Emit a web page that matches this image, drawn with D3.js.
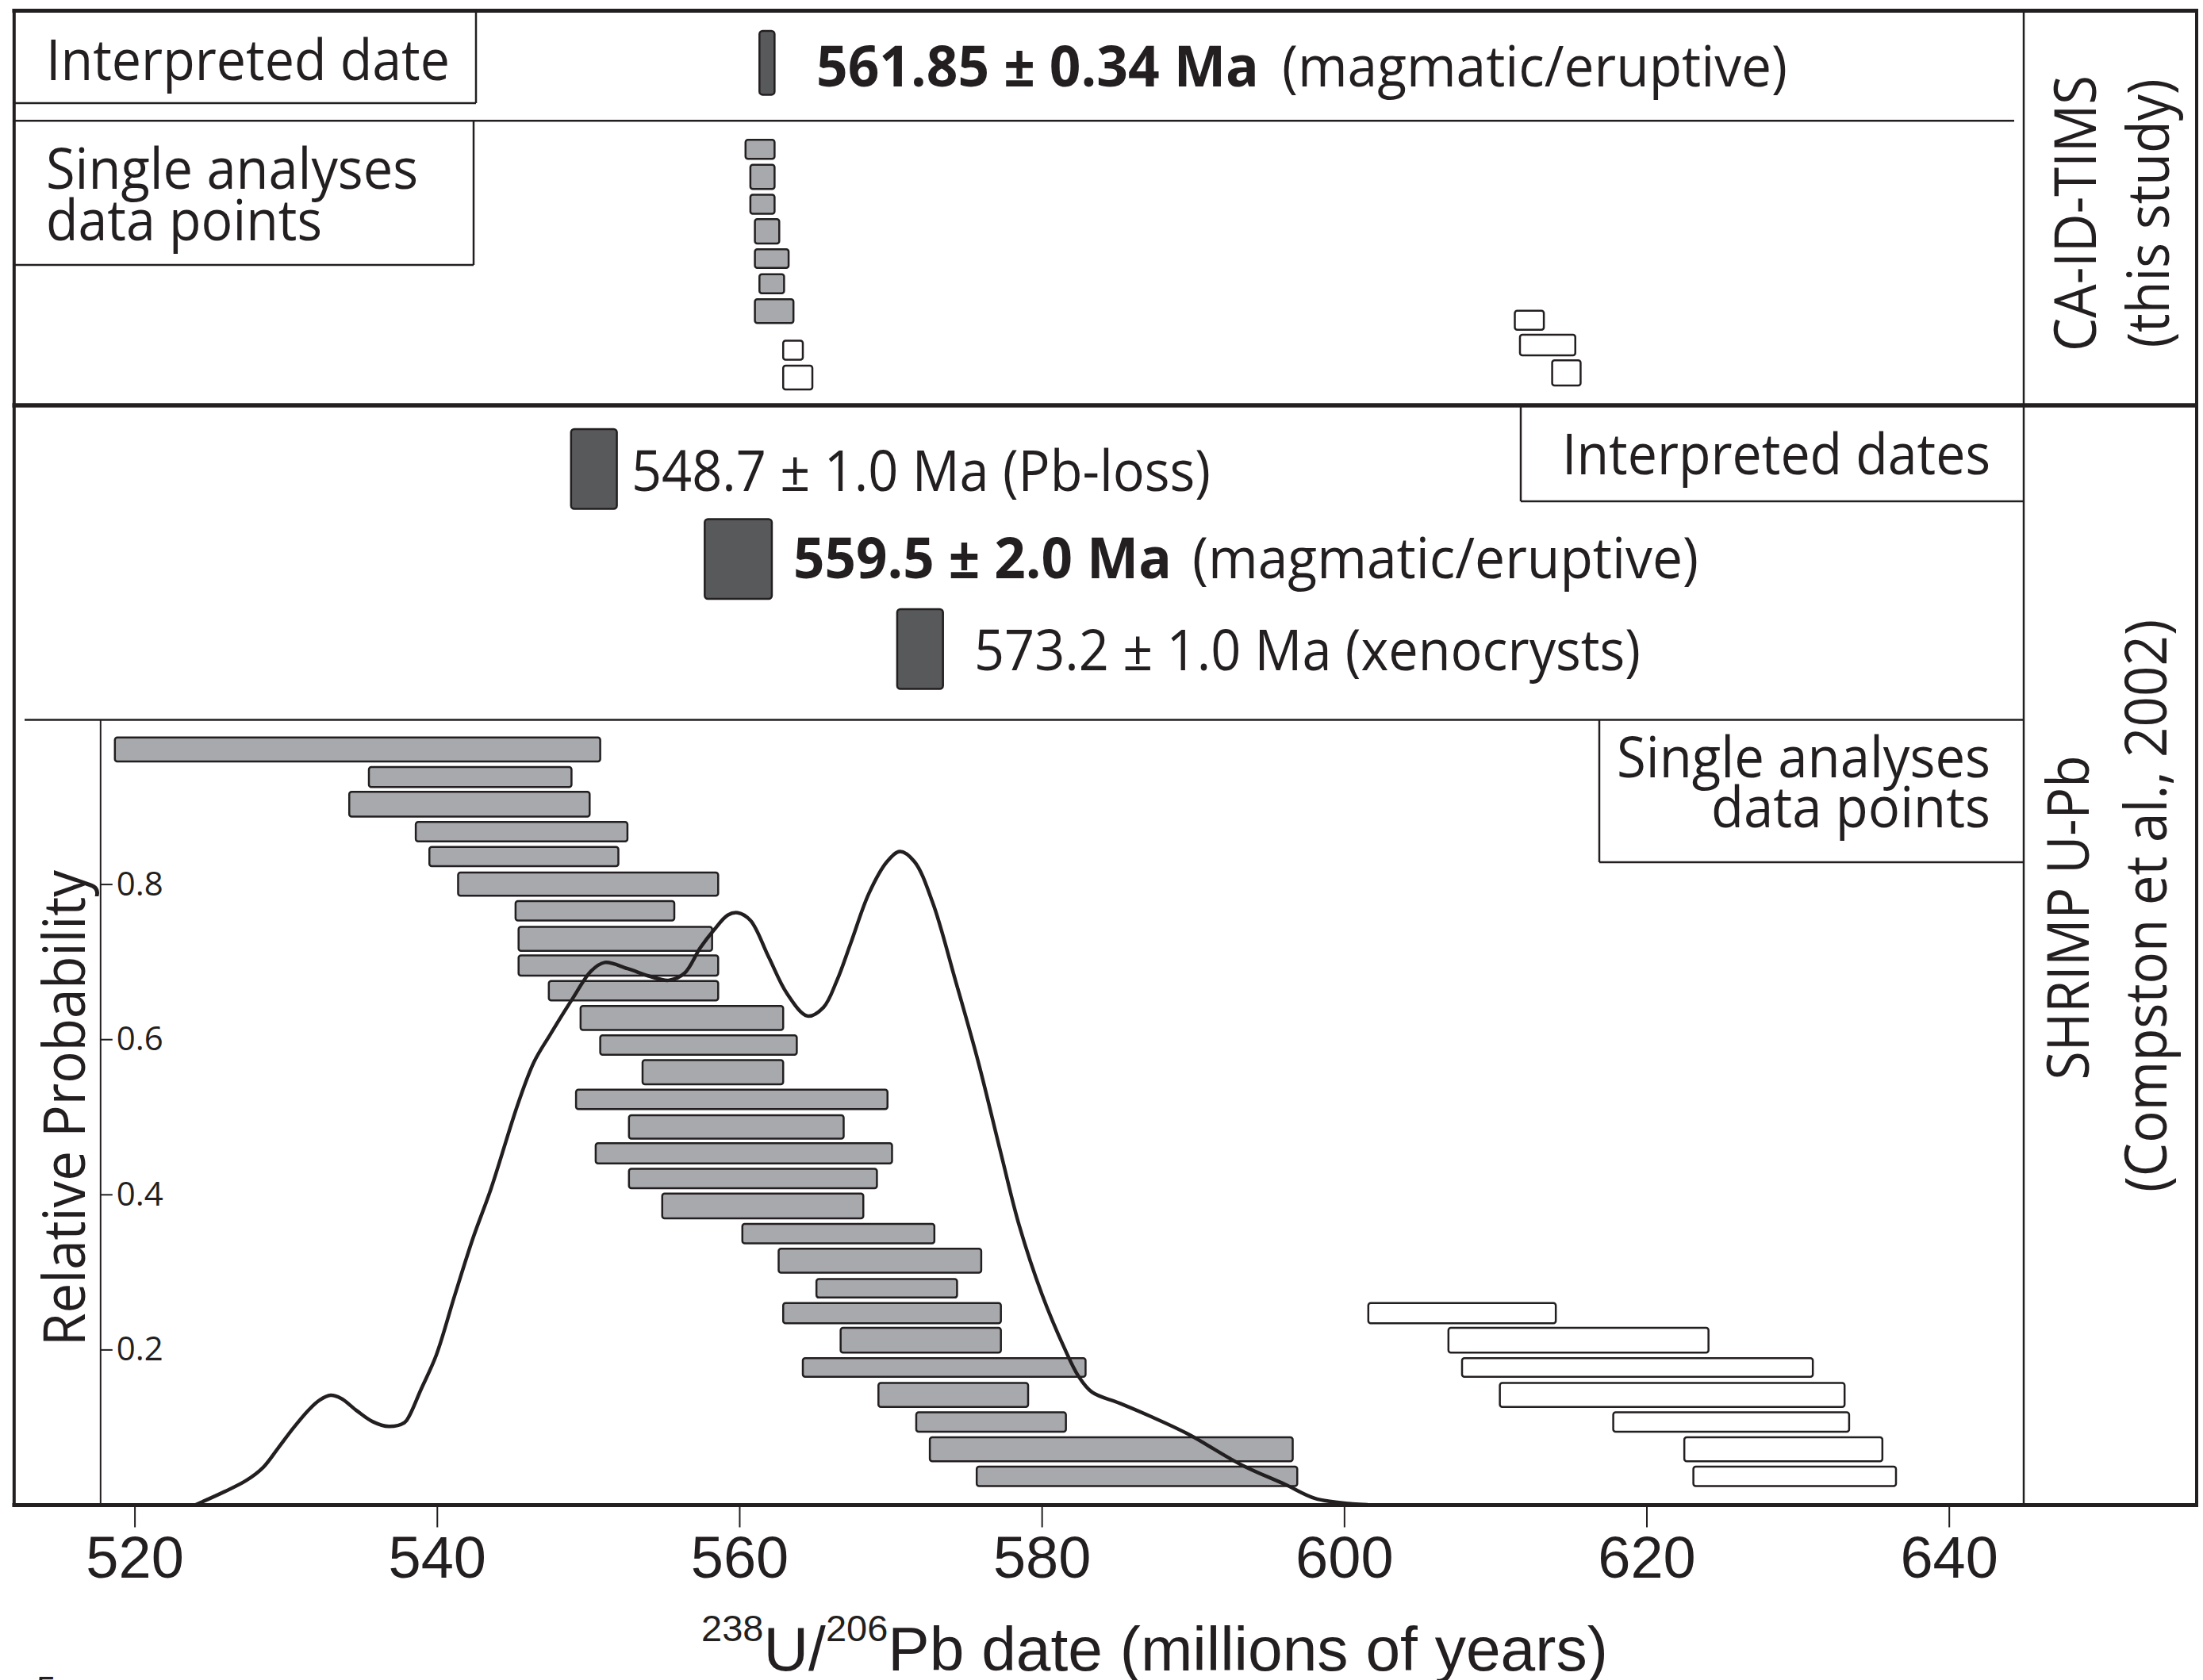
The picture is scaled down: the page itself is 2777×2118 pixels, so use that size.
<!DOCTYPE html>
<html>
<head>
<meta charset="utf-8">
<script src="https://cdn.jsdelivr.net/npm/d3@7"></script>
<style>
  html, body { margin: 0; padding: 0; background: #fff; }
  svg { display: block; }
</style>
</head>
<body>
<div class="chart"></div>
<script>
// Chart size
const width = 2777;
const height = 2118;

// Colours and fonts
const ink = '#231f20';
const darkFill = '#58595b';
const grayFill = '#a7a9ac';
const textFont = "'Open Sans', 'Noto Sans', sans-serif";
const axisFont = "'Liberation Sans', Arial, sans-serif";

// Axis ticks
const ageTicks = [520, 540, 560, 580, 600, 620, 640];
const probTicks = [0.2, 0.4, 0.6, 0.8];

// CA-ID-TIMS interpreted date (box extent in Ma as drawn)
const timsDates = [
	{ lo: 561.33, hi: 562.33, value: '561.85 ± 0.34 Ma', note: '(magmatic/eruptive)', bold: true }
];

// CA-ID-TIMS single grains: lo/hi in Ma, top/bottom in panel units, used = grey
const timsGrains = [
	{ lo: 560.41, hi: 562.33, top: 0.932, bottom: 0.865, used: true },
	{ lo: 560.73, hi: 562.33, top: 0.844, bottom: 0.759, used: true },
	{ lo: 560.73, hi: 562.33, top: 0.739, bottom: 0.672, used: true },
	{ lo: 561.03, hi: 562.64, top: 0.653, bottom: 0.567, used: true },
	{ lo: 561.03, hi: 563.26, top: 0.547, bottom: 0.481, used: true },
	{ lo: 561.33, hi: 562.96, top: 0.459, bottom: 0.392, used: true },
	{ lo: 561.03, hi: 563.58, top: 0.371, bottom: 0.287, used: true },
	{ lo: 562.90, hi: 564.20, top: 0.225, bottom: 0.158, used: false },
	{ lo: 562.90, hi: 564.83, top: 0.137, bottom: 0.053, used: false },
	{ lo: 611.29, hi: 613.21, top: 0.330, bottom: 0.263, used: false },
	{ lo: 611.63, hi: 615.29, top: 0.246, bottom: 0.173, used: false },
	{ lo: 613.76, hi: 615.64, top: 0.156, bottom: 0.067, used: false }
];

// SHRIMP interpreted dates (box extent in Ma as drawn)
const shrimpDates = [
	{ lo: 548.87, hi: 551.90, value: '548.7 ± 1.0 Ma', note: '(Pb-loss)', bold: false },
	{ lo: 557.71, hi: 562.15, value: '559.5 ± 2.0 Ma', note: '(magmatic/eruptive)', bold: true },
	{ lo: 570.44, hi: 573.47, value: '573.2 ± 1.0 Ma', note: '(xenocrysts)', bold: false }
];

// SHRIMP single analyses: lo/hi in Ma, top/bottom in relative probability units
const shrimpGrains = [
	{ lo: 518.7, hi: 550.8, top: 0.989, bottom: 0.958, used: true },
	{ lo: 535.5, hi: 548.9, top: 0.951, bottom: 0.925, used: true },
	{ lo: 534.2, hi: 550.1, top: 0.919, bottom: 0.887, used: true },
	{ lo: 538.6, hi: 552.6, top: 0.880, bottom: 0.855, used: true },
	{ lo: 539.5, hi: 552.0, top: 0.848, bottom: 0.823, used: true },
	{ lo: 541.4, hi: 558.6, top: 0.815, bottom: 0.785, used: true },
	{ lo: 545.2, hi: 555.7, top: 0.778, bottom: 0.753, used: true },
	{ lo: 545.4, hi: 558.2, top: 0.745, bottom: 0.714, used: true },
	{ lo: 545.4, hi: 558.6, top: 0.708, bottom: 0.682, used: true },
	{ lo: 547.4, hi: 558.6, top: 0.675, bottom: 0.650, used: true },
	{ lo: 549.5, hi: 562.9, top: 0.643, bottom: 0.612, used: true },
	{ lo: 550.8, hi: 563.8, top: 0.605, bottom: 0.580, used: true },
	{ lo: 553.6, hi: 562.9, top: 0.573, bottom: 0.542, used: true },
	{ lo: 549.2, hi: 569.8, top: 0.535, bottom: 0.510, used: true },
	{ lo: 552.7, hi: 566.9, top: 0.502, bottom: 0.472, used: true },
	{ lo: 550.5, hi: 570.1, top: 0.466, bottom: 0.440, used: true },
	{ lo: 552.7, hi: 569.1, top: 0.433, bottom: 0.408, used: true },
	{ lo: 554.9, hi: 568.2, top: 0.401, bottom: 0.369, used: true },
	{ lo: 560.2, hi: 572.9, top: 0.362, bottom: 0.337, used: true },
	{ lo: 562.6, hi: 576.0, top: 0.330, bottom: 0.299, used: true },
	{ lo: 565.1, hi: 574.4, top: 0.291, bottom: 0.267, used: true },
	{ lo: 562.9, hi: 577.3, top: 0.260, bottom: 0.234, used: true },
	{ lo: 566.7, hi: 577.3, top: 0.228, bottom: 0.196, used: true },
	{ lo: 564.2, hi: 582.9, top: 0.189, bottom: 0.165, used: true },
	{ lo: 569.2, hi: 579.1, top: 0.157, bottom: 0.126, used: true },
	{ lo: 571.7, hi: 581.6, top: 0.119, bottom: 0.094, used: true },
	{ lo: 572.6, hi: 596.6, top: 0.087, bottom: 0.056, used: true },
	{ lo: 575.7, hi: 596.9, top: 0.049, bottom: 0.024, used: true },
	{ lo: 601.6, hi: 614.0, top: 0.260, bottom: 0.234, used: false },
	{ lo: 606.9, hi: 624.1, top: 0.228, bottom: 0.196, used: false },
	{ lo: 607.8, hi: 631.0, top: 0.189, bottom: 0.165, used: false },
	{ lo: 610.3, hi: 633.1, top: 0.157, bottom: 0.126, used: false },
	{ lo: 617.8, hi: 633.4, top: 0.119, bottom: 0.094, used: false },
	{ lo: 622.5, hi: 635.6, top: 0.087, bottom: 0.056, used: false },
	{ lo: 623.1, hi: 636.5, top: 0.049, bottom: 0.024, used: false }
];

// Relative probability curve [Ma, probability]
const probCurve = [
	[524.05, 0.000], [525.97, 0.017], [527.37, 0.031], [528.50, 0.048], [529.46, 0.072],
	[530.51, 0.099], [531.56, 0.123], [532.26, 0.135], [532.96, 0.141], [533.66, 0.137],
	[534.71, 0.121], [535.76, 0.107], [536.81, 0.101], [537.86, 0.106], [538.21, 0.116],
	[538.91, 0.147], [539.96, 0.193], [541.18, 0.270], [542.41, 0.345], [543.57, 0.407],
	[545.38, 0.518], [546.43, 0.571], [547.49, 0.606], [548.99, 0.653], [550.20, 0.688],
	[551.10, 0.699], [552.61, 0.691], [554.11, 0.681], [555.32, 0.676], [556.37, 0.685],
	[557.42, 0.718], [558.33, 0.741], [559.23, 0.760], [559.90, 0.763], [560.74, 0.753],
	[561.94, 0.706], [563.15, 0.659], [564.51, 0.630], [565.56, 0.641], [566.46, 0.676],
	[567.37, 0.724], [568.57, 0.788], [569.77, 0.829], [570.62, 0.842], [571.58, 0.829],
	[572.79, 0.776], [574.29, 0.676], [575.80, 0.571], [577.30, 0.453], [578.51, 0.360],
	[580.02, 0.271], [581.52, 0.201], [582.42, 0.166], [583.33, 0.145], [585.13, 0.131],
	[587.18, 0.114], [589.69, 0.091], [593.15, 0.052], [596.11, 0.026], [598.09, 0.008],
	[600.56, 0.001], [601.55, 0.000]
];

// Layout of the text blocks (x start, baseline, fitted widths)
// bold labels: value and note set separately; plain labels: one run of width "full"
const timsLabelLayout = [{ x: 1029, y: 109, w: 558, nx: 1616, nw: 637 }];
const shrimpLabelLayout = [
	{ x: 796, y: 619, full: 730 },
	{ x: 1000, y: 729, w: 477, nx: 1503, nw: 638 },
	{ x: 1228, y: 845, full: 840 }
];

const svg = d3.select('.chart')
	.append('svg')
	.attr('width', width)
	.attr('height', height)
	.style('background', '#fff');

// Scales
const x = d3.scaleLinear().domain([520, 640]).range([169.6, 2456.7]);
const yProb = d3.scaleLinear().domain([0, 1]).range([1897, 919]);
const yTims = d3.scaleLinear().domain([0, 1]).range([510, 152]);
const bandTims = d3.scaleBand().domain(d3.range(timsDates.length)).range([39, 119.4]);
const bandShrimp = d3.scaleBand().domain(d3.range(shrimpDates.length))
	.range([541, 868.5]).paddingInner(0.115);

function rule(x1, y1, x2, y2, w) {
	svg.append('line')
		.attr('x1', x1).attr('y1', y1).attr('x2', x2).attr('y2', y2)
		.attr('stroke', ink).attr('stroke-width', w);
}

function label(txt, px, py, opts = {}) {
	const t = svg.append('text')
		.attr('x', px).attr('y', py)
		.attr('fill', ink)
		.style('font-family', opts.font || textFont)
		.style('font-size', (opts.size || 72) + 'px')
		.style('font-weight', opts.bold ? 700 : 400)
		.text(txt);
	if (opts.w) t.attr('textLength', opts.w).attr('lengthAdjust', 'spacingAndGlyphs');
	if (opts.rotate) {
		t.attr('x', 0).attr('y', 0)
			.attr('text-anchor', 'middle')
			.attr('transform', `translate(${px},${py}) rotate(-90)`);
	}
	return t;
}

function dateLabel(d, l) {
	if (d.bold) {
		label(d.value, l.x, l.y, { bold: true, w: l.w });
		label(d.note, l.nx, l.y, { w: l.nw });
	} else {
		label(`${d.value} ${d.note}`, l.x, l.y, { w: l.full });
	}
}

// Frame and panel rules
rule(15.5, 13.5, 2771, 13.5, 5);
rule(17.8, 11, 17.8, 1900, 4);
rule(2769, 11, 2769, 1900, 4);
rule(15.5, 511, 2771, 511, 5.5);
rule(2551, 13.5, 2551, 1897, 2.5);
rule(17.8, 152.3, 2539, 152.3, 2.5);
rule(600, 13.5, 600, 130, 2.5);
rule(17.8, 130, 600, 130, 2.5);
rule(597, 152.3, 597, 334, 2.5);
rule(17.8, 334, 597, 334, 2.5);
rule(1917, 511, 1917, 632, 2.5);
rule(1917, 632, 2551, 632, 2.5);
rule(31, 907.6, 2551, 907.6, 2.5);
rule(2016, 907.6, 2016, 1087, 2.5);
rule(2016, 1087, 2551, 1087, 2.5);
rule(126.8, 907.6, 126.8, 1897, 2);

// Box labels
label('Interpreted date', 58, 101, { w: 509 });
label('Single analyses', 58, 238, { w: 469 });
label('data points', 58, 303, { w: 348 });
label('Interpreted dates', 1969, 598, { w: 540 });
label('Single analyses', 2038, 980, { w: 471 });
label('data points', 2157, 1043, { w: 352 });

// Side labels
label('CA-ID-TIMS', 2642, 269, { rotate: true, size: 74, w: 348 });
label('(this study)', 2734, 269, { rotate: true, size: 74, w: 339 });
label('SHRIMP U-Pb', 2633, 1157, { rotate: true, size: 74, w: 409 });
label('(Compston et al., 2002)', 2731, 1142, { rotate: true, size: 74, w: 722 });
label('Relative Probability', 107, 1397, { rotate: true, size: 74, w: 600 });

// X axis
svg.append('g')
	.attr('transform', 'translate(0,1897.5)')
	.call(d3.axisBottom(x).tickValues(ageTicks).tickSize(28).tickPadding(11))
	.call(g => g.select('.domain').remove())
	.call(g => g.selectAll('line').attr('stroke', ink).attr('stroke-width', 2))
	.call(g => g.selectAll('text')
		.attr('fill', ink)
		.style('font-family', axisFont)
		.style('font-size', '74px'));

rule(15.5, 1897.5, 2771, 1897.5, 5);

// Y axis (ticks pointing into the plot)
svg.append('g')
	.attr('transform', 'translate(126.8,0)')
	.call(d3.axisRight(yProb).tickValues(probTicks).tickSize(15).tickPadding(5)
		.tickFormat(d3.format('.1f')))
	.call(g => g.select('.domain').remove())
	.call(g => g.selectAll('line').attr('stroke', ink).attr('stroke-width', 2))
	.call(g => g.selectAll('text')
		.attr('fill', ink)
		.style('font-family', textFont)
		.style('font-size', '42px'));

// X axis title
const title = svg.append('text')
	.attr('x', 884).attr('y', 2106)
	.attr('fill', ink)
	.style('font-family', axisFont)
	.style('font-size', '78.5px');
title.append('tspan').text('238').style('font-size', '47px').attr('dy', -37);
title.append('tspan').text('U/').attr('dy', 37);
title.append('tspan').text('206').style('font-size', '47px').attr('dy', -37);
title.append('tspan').text('Pb date (millions of years)').attr('dy', 37);

// stray page mark at the bottom-left
svg.append('text').attr('x', 46).attr('y', 2145).attr('fill', ink)
	.style('font-family', axisFont).style('font-size', '44px').text('5');

// CA-ID-TIMS interpreted date
svg.append('g').selectAll('rect')
	.data(timsDates)
	.join('rect')
		.attr('x', d => x(d.lo))
		.attr('width', d => x(d.hi) - x(d.lo))
		.attr('y', (d, i) => bandTims(i))
		.attr('height', bandTims.bandwidth())
		.attr('rx', 4)
		.attr('fill', darkFill)
		.attr('stroke', ink)
		.attr('stroke-width', 2.5);

timsDates.forEach((d, i) => dateLabel(d, timsLabelLayout[i]));

// CA-ID-TIMS single grains
svg.append('g').selectAll('rect')
	.data(timsGrains)
	.join('rect')
		.attr('x', d => x(d.lo))
		.attr('width', d => x(d.hi) - x(d.lo))
		.attr('y', d => yTims(d.top))
		.attr('height', d => yTims(d.bottom) - yTims(d.top))
		.attr('rx', 3)
		.attr('fill', d => d.used ? grayFill : '#fff')
		.attr('stroke', ink)
		.attr('stroke-width', 2.5);

// SHRIMP interpreted dates
svg.append('g').selectAll('rect')
	.data(shrimpDates)
	.join('rect')
		.attr('x', d => x(d.lo))
		.attr('width', d => x(d.hi) - x(d.lo))
		.attr('y', (d, i) => bandShrimp(i))
		.attr('height', bandShrimp.bandwidth())
		.attr('rx', 4)
		.attr('fill', darkFill)
		.attr('stroke', ink)
		.attr('stroke-width', 2.5);

shrimpDates.forEach((d, i) => dateLabel(d, shrimpLabelLayout[i]));

// SHRIMP single analyses
svg.append('g').selectAll('rect')
	.data(shrimpGrains)
	.join('rect')
		.attr('x', d => x(d.lo))
		.attr('width', d => x(d.hi) - x(d.lo))
		.attr('y', d => yProb(d.top))
		.attr('height', d => yProb(d.bottom) - yProb(d.top))
		.attr('rx', 3)
		.attr('fill', d => d.used ? grayFill : '#fff')
		.attr('stroke', ink)
		.attr('stroke-width', 2.5);

// Probability density curve (on top of the bars)
const line = d3.line()
	.x(d => x(d[0]))
	.y(d => yProb(d[1]))
	.curve(d3.curveCatmullRom.alpha(0.5));

svg.append('path')
	.datum(probCurve)
	.attr('d', line)
	.attr('fill', 'none')
	.attr('stroke', ink)
	.attr('stroke-width', 4.5)
	.attr('stroke-linejoin', 'round');
</script>
</body>
</html>
